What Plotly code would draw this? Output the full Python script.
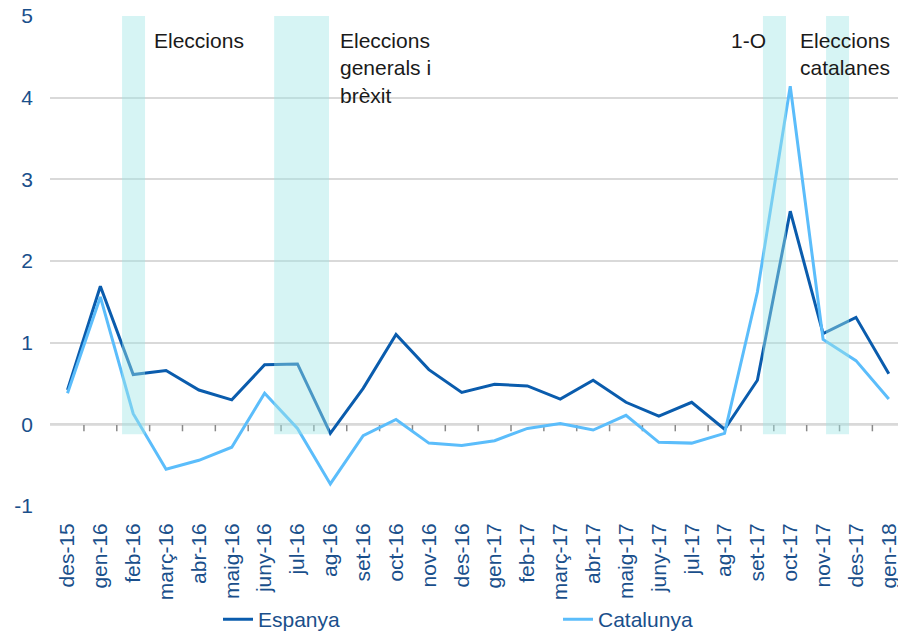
import plotly.graph_objects as go

months = ["des-15", "gen-16", "feb-16", "març-16", "abr-16", "maig-16", "juny-16", "jul-16",
          "ag-16", "set-16", "oct-16", "nov-16", "des-16", "gen-17", "feb-17", "març-17",
          "abr-17", "maig-17", "juny-17", "jul-17", "ag-17", "set-17", "oct-17", "nov-17",
          "des-17", "gen-18"]

espanya = [0.42, 1.69, 0.61, 0.66, 0.42, 0.30, 0.73, 0.74, -0.11, 0.44, 1.10, 0.67,
           0.39, 0.49, 0.47, 0.31, 0.54, 0.27, 0.10, 0.27, -0.06, 0.54, 2.61, 1.11,
           1.31, 0.62]

catalunya = [0.38, 1.56, 0.13, -0.55, -0.44, -0.28, 0.38, -0.05, -0.73, -0.14, 0.06, -0.23,
             -0.26, -0.20, -0.05, 0.01, -0.07, 0.11, -0.22, -0.23, -0.11, 1.62, 4.14, 1.04,
             0.78, 0.31]

# event bands (start, end) in category-index units
band_start = [1.66, 6.29, 21.17, 23.09]
band_end = [2.36, 7.96, 21.87, 23.79]
band_labels = ["Eleccions", "Eleccions<br>generals i<br>brèxit", "1-O", "Eleccions<br>catalanes"]
label_x = [2.57, 8.23, 20.14, 22.24]

y_ticks = [-1, 0, 1, 2, 3, 4, 5]
y_ticktext = ["-1", "0", "1", "2", "3", "4", "5"]

FONT = "Liberation Sans, Arial, sans-serif"
DARK = "#1a4f8b"

idx = list(range(len(months)))

fig = go.Figure()
fig.add_trace(go.Scatter(x=idx, y=espanya, mode="lines", name="Espanya", legend="legend",
                         line=dict(color="#0a5cad", width=3)))
fig.add_trace(go.Scatter(x=idx, y=catalunya, mode="lines", name="Catalunya", legend="legend2",
                         line=dict(color="#5bbdfb", width=3)))

shapes = []
# boundary ticks on zero line
for i in range(len(months) - 1):
    shapes.append(dict(type="line", xref="x", yref="y", x0=i + 0.5, x1=i + 0.5,
                       y0=0, y1=-0.085, line=dict(color="#898989", width=1.5), layer="below"))
shapes.append(dict(type="line", xref="paper", yref="y", x0=0, x1=1, y0=0, y1=0,
                   line=dict(color="#898989", width=2), layer="below"))
for s, e in zip(band_start, band_end):
    shapes.append(dict(type="rect", xref="x", yref="y", x0=s, x1=e, y0=-0.12, y1=5,
                       fillcolor="rgba(160,230,230,0.43)", line=dict(width=0), layer="above"))

annotations = []
for lx, lt in zip(label_x, band_labels):
    annotations.append(dict(x=lx, y=4.86, xref="x", yref="y", text=lt, showarrow=False,
                            xanchor="left", yanchor="top", align="left",
                            font=dict(family=FONT, size=21, color="#1a1a1a")))

legend_common = dict(orientation="h", xanchor="left", yanchor="top",
                     font=dict(family=FONT, size=21, color=DARK), bgcolor="rgba(0,0,0,0)")

fig.update_layout(
    width=898, height=632,
    margin=dict(l=50, r=0, t=16, b=126, autoexpand=False),
    paper_bgcolor="white", plot_bgcolor="white",
    font=dict(family=FONT, color=DARK),
    shapes=shapes,
    annotations=annotations,
    showlegend=True,
    legend=dict(x=(218 - 50) / 848, y=-0.19, **legend_common),
    legend2=dict(x=(558 - 50) / 848, y=-0.19, **legend_common),
    xaxis=dict(range=[-0.533, 25.28], tickmode="array", tickvals=idx, ticktext=months,
               tickangle=-90, showgrid=False, zeroline=False, showline=False, ticks="",
               ticklabelstandoff=12, automargin=False, ticklabeloverflow="allow",
               tickfont=dict(family=FONT, size=21, color=DARK)),
    yaxis=dict(range=[-1, 5], tickmode="array", tickvals=y_ticks, ticktext=y_ticktext,
               showgrid=True, gridcolor="#d9d9d9", gridwidth=1.5, zeroline=False,
               showline=False, ticks="", ticklabelstandoff=16, automargin=False,
               tickfont=dict(family=FONT, size=21, color=DARK)),
)

fig.write_html("out.html")
